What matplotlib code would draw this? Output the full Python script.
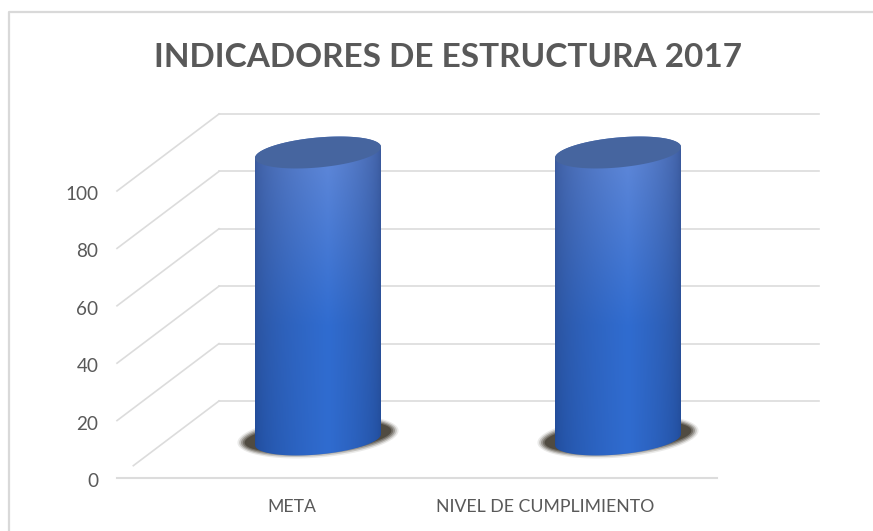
import numpy as np
import matplotlib
matplotlib.use('Agg')
import matplotlib.pyplot as plt
from matplotlib.lines import Line2D
from matplotlib.patches import Polygon
from matplotlib.transforms import ScaledTranslation

categories = ['META', 'NIVEL DE CUMPLIMIENTO']
values = [100, 100]
yticks = [0, 20, 40, 60, 80, 100]
title = 'INDICADORES DE ESTRUCTURA 2017'

W, H = 873, 531
plt.rcParams['font.family'] = ['Lato', 'DejaVu Sans']

fig = plt.figure(figsize=(W / 100, H / 100), dpi=100, facecolor='white')

# front plane of the 3d box: x 117-717 px, y 478-191 px
ax = fig.add_axes([117 / W, 1 - 478 / H, 600 / W, 287 / H])
ax.set_xlim(-0.5, 1.5)
ax.set_ylim(0, 100)
ax.patch.set_visible(False)
for s in ax.spines.values():
    s.set_visible(False)

PX = 300.0   # px per category
PY = 2.87    # px per value unit
DX = 102 / PX  # depth offset of the back wall
DY = 77 / PY

grid = '#dcdcdc'
for t in yticks:
    ax.plot([-0.5 + DX, 1.5 + DX], [t + DY, t + DY], color=grid, lw=1.2, clip_on=False, zorder=1)
    start = 0.16 if t == 0 else 0.0
    ax.plot([-0.5 + DX * start, -0.5 + DX], [t + DY * start, t + DY], color=grid, lw=1.2, clip_on=False, zorder=1)
ax.plot([-0.5, 1.5], [0, 0], color=grid, lw=1.5, clip_on=False, zorder=1)

ax.set_yticks(yticks)
ax.set_yticklabels([str(t) for t in yticks], fontsize=13.6, color='#595959')
ax.tick_params(axis='y', length=0, pad=13.5)
shift_down = ScaledTranslation(0, -2 / 72 * 0.72, fig.dpi_scale_trans)
for lab in ax.get_yticklabels():
    lab.set_transform(lab.get_transform() + shift_down)
ax.set_xticks([])

label_shift = [25, -22]
for i, c in enumerate(categories):
    ax.annotate(c, (i, 0), xytext=(label_shift[i] * 0.72, -29 * 0.72), textcoords='offset points',
                ha='center', va='center', fontsize=12.7, color='#595959', annotation_clip=False)

fig.text(448.5 / W, 1 - 57.5 / H, title, ha='center', va='center', fontsize=24,
         fontweight='bold', color='#595959')


def ellipse(cx, cy, a_px, b_px, k_px, t):
    return cx + a_px * np.cos(t) / PX, cy + (b_px * np.sin(t) + k_px * np.cos(t)) / PY


# horizontal and vertical shading of the cylinder
u = np.linspace(0, 1, 160)
v = np.linspace(0, 1, 120)
uu, vv = np.meshgrid(u, v)
edge = np.clip(1 - np.abs(uu - 0.58) / np.where(uu > 0.58, 0.42, 0.58), 0, 1) ** 0.55
top = np.array([0x66, 0x8c, 0xda]) / 255
bottom = np.array([0x30, 0x6c, 0xd0]) / 255
dark_top = np.array([0x3c, 0x5a, 0x9c]) / 255
dark_bottom = np.array([0x1f, 0x4a, 0x98]) / 255
img = np.zeros(uu.shape + (3,))
for c in range(3):
    mid = top[c] + (bottom[c] - top[c]) * np.clip(vv * 1.7, 0, 1)
    side = dark_top[c] + (dark_bottom[c] - dark_top[c]) * vv
    img[..., c] = side + (mid - side) * edge

t_all = np.linspace(0, 2 * np.pi, 200)
A, B, K = 63, 15, 5.5
for i, val in enumerate(values):
    cx = i + DX / 2
    cy0 = DY / 2

    # soft shadow on the floor
    for grow, alpha in zip([-6, -3, 0, 3, 6], [0.6, 0.4, 0.3, 0.2, 0.1]):
        sx, sy = ellipse(cx, cy0 + 1, 77 + grow * 0.6, 18 + grow * 0.5, 6, t_all)
        ax.fill(sx, sy, color='#3a3428', alpha=alpha, lw=0, zorder=2, clip_on=False)

    t_low = np.linspace(np.pi, 2 * np.pi, 80)
    t_up = np.linspace(0, np.pi, 80)
    bx, by = ellipse(cx, cy0, A, B, K, t_low)
    tx, ty = ellipse(cx, cy0 + val, A, B, K, t_up)
    body = Polygon(np.column_stack([np.r_[bx, tx], np.r_[by, ty]]), transform=ax.transData,
                   facecolor='none', edgecolor='none', clip_on=False)
    ax.add_patch(body)
    im = ax.imshow(img, extent=[cx - A / PX, cx + A / PX, cy0 - 25 / PY, cy0 + val + 25 / PY],
                   origin='upper', aspect='auto', zorder=3, interpolation='bilinear')
    im.set_clip_box(fig.bbox)
    im.set_clip_path(body)

    capx, capy = ellipse(cx, cy0 + val, A, B, K, t_all)
    ax.fill(capx, capy, color='#46659f', lw=0, zorder=4, clip_on=False)

ax.set_xlim(-0.5, 1.5)
ax.set_ylim(0, 100)

# chart frame, cut off by the picture at right and bottom
fig.add_artist(Line2D([9 / W, 9 / W, 1], [0, 1 - 12 / H, 1 - 12 / H], color='#d9d9d9', lw=1.6))

fig.savefig('out.png', dpi=100)
